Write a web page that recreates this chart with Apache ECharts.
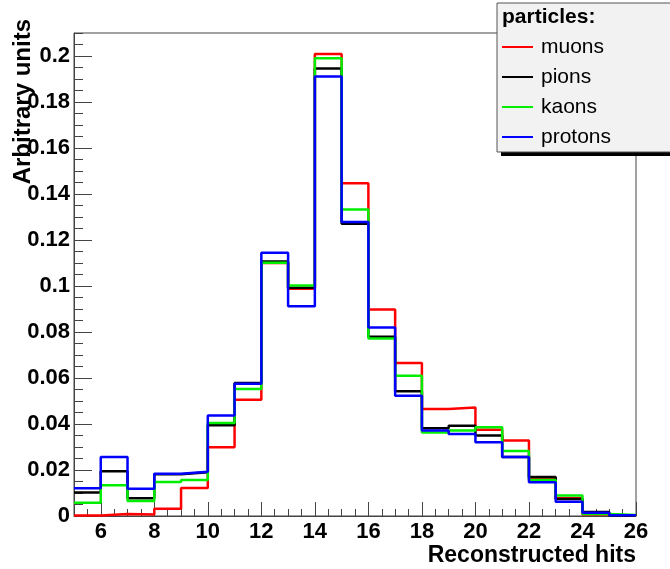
<!DOCTYPE html>
<html>
<head>
<meta charset="utf-8">
<script src="https://cdn.jsdelivr.net/npm/echarts@6/dist/echarts.min.js"></script>
<style>
  html, body { margin: 0; padding: 0; background: #fff; }
  #chart { width: 670px; height: 569px; }
</style>
</head>
<body>
<div id="chart"></div>
<script>
// Lower bin edges (unit-width bins from 5 to 26)
const binEdges = [5, 6, 7, 8, 9, 10, 11, 12, 13, 14, 15, 16, 17, 18, 19, 20, 21, 22, 23, 24, 25];
const upperEdge = 26;

// Normalised hit-count distributions per particle type
const muons   = [0.0002, 0.0009, 0.0007, 0.0032, 0.0122, 0.0299, 0.0505, 0.1100, 0.0988, 0.2009, 0.1447, 0.0898, 0.0665, 0.0465, 0.0472, 0.0375, 0.0328, 0.0164, 0.0077, 0.0007, 0.0001];
const pions   = [0.0102, 0.0195, 0.0077, 0.0182, 0.0190, 0.0395, 0.0578, 0.1107, 0.0992, 0.1946, 0.1271, 0.0779, 0.0542, 0.0382, 0.0392, 0.0350, 0.0257, 0.0170, 0.0074, 0.0017, 0.0002];
const kaons   = [0.0058, 0.0134, 0.0065, 0.0148, 0.0157, 0.0404, 0.0552, 0.1101, 0.1002, 0.1990, 0.1333, 0.0772, 0.0610, 0.0363, 0.0372, 0.0386, 0.0283, 0.0157, 0.0089, 0.0009, 0.0004];
const protons = [0.0121, 0.0256, 0.0118, 0.0184, 0.0192, 0.0437, 0.0575, 0.1145, 0.0912, 0.1911, 0.1278, 0.0820, 0.0523, 0.0372, 0.0357, 0.0321, 0.0256, 0.0147, 0.0062, 0.0014, 0.0003];

// Axis tick labels
const xTickLabels = [6, 8, 10, 12, 14, 16, 18, 20, 22, 24, 26];
const yTickLabels = [0, 0.02, 0.04, 0.06, 0.08, 0.1, 0.12, 0.14, 0.16, 0.18, 0.2];

const seriesDefs = [
  { name: 'muons',   values: muons,   color: '#ff0000' },
  { name: 'pions',   values: pions,   color: '#000000' },
  { name: 'kaons',   values: kaons,   color: '#00ee00' },
  { name: 'protons', values: protons, color: '#0000ff' }
];

// Histogram outline: one point per lower edge plus a closing point at the upper edge
function histPoints(values) {
  const pts = binEdges.map((x, i) => [x, values[i]]);
  pts.push([upperEdge, values[values.length - 1]]);
  return pts;
}

const FONT = '"Liberation Sans", Arial, Helvetica, sans-serif';
const axisColor = '#444';

const chart = echarts.init(document.getElementById('chart'), null, { renderer: 'canvas' });

chart.setOption({
  animation: false,
  backgroundColor: '#ffffff',
  grid: {
    left: 74, top: 33, right: 34, bottom: 53,
    show: true, borderColor: axisColor, borderWidth: 1, backgroundColor: 'transparent'
  },
  xAxis: [
    {
      type: 'value', min: 5, max: 26, interval: 0.5,
      position: 'bottom', offset: 0,
      splitLine: { show: false },
      axisLine: { show: true, onZero: false, lineStyle: { color: axisColor } },
      axisTick: { inside: true, length: 7, lineStyle: { color: axisColor } },
      axisLabel: {
        customValues: xTickLabels,
        margin: 5,
        fontFamily: FONT, fontWeight: 'bold', fontSize: 22, color: '#000',
        formatter: v => String(Math.round(v))
      }
    },
    {
      type: 'value', min: 5, max: 26,
      position: 'bottom', offset: 0,
      splitLine: { show: false },
      axisLine: { show: false },
      axisTick: { inside: true, length: 14, customValues: xTickLabels, lineStyle: { color: axisColor } },
      axisLabel: { show: false }
    }
  ],
  yAxis: [
    {
      type: 'value', min: 0, max: 0.21, interval: 0.005,
      position: 'left', offset: 0,
      splitLine: { show: false },
      axisLine: { show: true, onZero: false, lineStyle: { color: axisColor } },
      axisTick: { inside: true, length: 9, lineStyle: { color: axisColor } },
      axisLabel: {
        customValues: yTickLabels,
        margin: 4,
        fontFamily: FONT, fontWeight: 'bold', fontSize: 22, color: '#000',
        formatter: v => String(+v.toFixed(3))
      }
    },
    {
      type: 'value', min: 0, max: 0.21,
      position: 'left', offset: 0,
      splitLine: { show: false },
      axisLine: { show: false },
      axisTick: { inside: true, length: 18, customValues: yTickLabels, lineStyle: { color: axisColor } },
      axisLabel: { show: false }
    }
  ],
  legend: {
    orient: 'vertical',
    left: 502, top: 32,
    padding: 0,
    itemWidth: 31, itemHeight: 2, itemGap: 0,
    icon: 'rect',
    z: 20,
    textStyle: { fontFamily: FONT, fontSize: 21, color: '#000', lineHeight: 30, padding: [0, 0, 0, 3] },
    data: seriesDefs.map(s => ({ name: s.name, itemStyle: { color: s.color } }))
  },
  series: seriesDefs.map(s => ({
    name: s.name,
    type: 'line',
    step: 'end',
    showSymbol: false,
    symbol: 'none',
    color: s.color,
    lineStyle: { color: s.color, width: 2.5 },
    data: histPoints(s.values),
    z: 3
  })),
  graphic: [
    // legend box: drop shadow, panel, header
    { type: 'rect', z: 10, shape: { x: 501, y: 7, width: 180, height: 149 }, style: { fill: '#000' } },
    { type: 'rect', z: 11, shape: { x: 497, y: 3, width: 180, height: 149 }, style: { fill: '#f2f2f2', stroke: '#555', lineWidth: 1 } },
    { type: 'text', z: 12, x: 502, y: 17, style: { text: 'particles:', font: 'bold 21px ' + FONT, fill: '#000', verticalAlign: 'middle' } },
    // axis titles
    { type: 'text', z: 5, x: 636, y: 556, style: { text: 'Reconstructed hits', font: 'bold 23px ' + FONT, fill: '#000', align: 'right', verticalAlign: 'middle' } },
    { type: 'text', z: 5, x: 23, y: 19, rotation: Math.PI / 2, style: { text: 'Arbitrary units', font: 'bold 24px ' + FONT, fill: '#000', align: 'right', verticalAlign: 'middle' } }
  ]
});
</script>
</body>
</html>
